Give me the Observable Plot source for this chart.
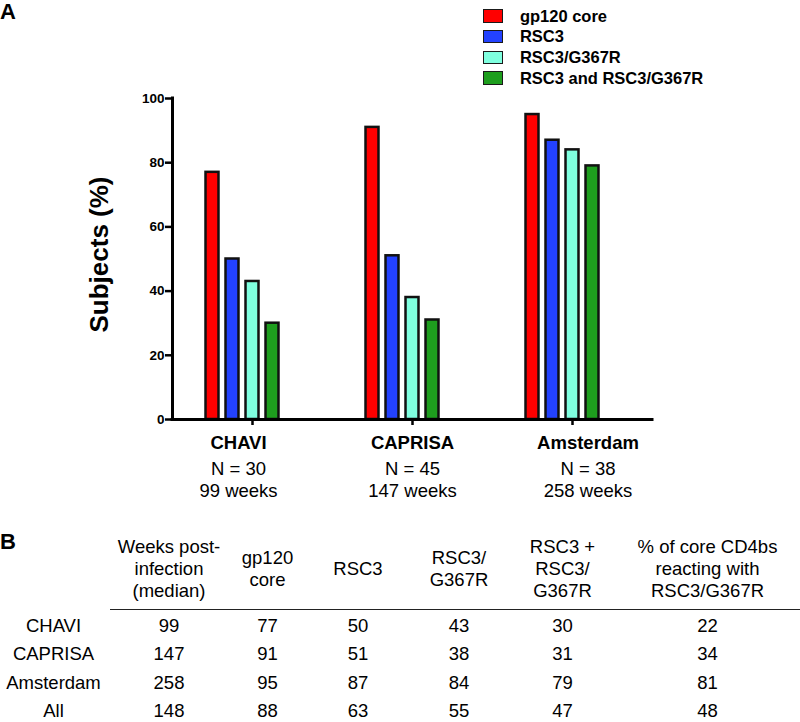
<!DOCTYPE html>
<html>
<head>
<meta charset="utf-8">
<script src="https://cdn.jsdelivr.net/npm/d3@7"></script>
<script src="https://cdn.jsdelivr.net/npm/@observablehq/plot@0.6"></script>
<style>
html, body { margin: 0; padding: 0; overflow: hidden; background: #fff; }
body { font-family: "Liberation Sans", Arial, sans-serif; color: #000; }
#page { position: relative; width: 800px; height: 722px; overflow: hidden; }
.panel { position: absolute; left: 0; font-weight: bold; font-size: 22px; line-height: 22px; }
#legend { position: absolute; left: 482.5px; top: 5.7px; }
.lrow { display: flex; align-items: center; height: 20.67px; }
.sw { box-sizing: border-box; flex: 0 0 20.6px; width: 20.6px; height: 13.4px; border: 1.5px solid #1a1a1a; margin-right: 16.8px; }
.ltxt { font-weight: bold; font-size: 16.5px; line-height: 20.67px; white-space: nowrap; }
#chart { position: absolute; left: 0; top: 86px; }
#table { position: absolute; left: 0; top: 528.7px; display: grid;
  grid-template-columns: 107px 124px 73px 108px 94px 113px 177px;
  grid-template-rows: 81.3px repeat(4, 28.5px); font-size: 18.5px; }
.th { display: flex; align-items: center; justify-content: center; text-align: center;
  line-height: 22px; white-space: nowrap; padding-bottom: 1.3px; box-sizing: border-box; }
.td { text-align: center; line-height: 20.66px; white-space: nowrap; position: relative; top: 5.8px; }
#rule { position: absolute; left: 110px; top: 608.7px; width: 690px; height: 1.4px; background: #222; }
</style>
</head>
<body>
<div id="page">
  <div class="panel" id="panelA" style="top:1.3px">A</div>
  <div id="legend"></div>
  <div id="chart"></div>
  <div class="panel" id="panelB" style="top:531.4px">B</div>
  <div id="table"></div>
  <div id="rule"></div>
</div>
<script>
// ---------- data ----------
const groups = ["CHAVI", "CAPRISA", "Amsterdam"];
const groupN = [30, 45, 38];
const series = ["gp120 core", "RSC3", "RSC3/G367R", "RSC3 and RSC3/G367R"];
const seriesColors = ["#ff0000", "#2342ff", "#7fffdf", "#1e9e1e"];

const rowLabels = ["CHAVI", "CAPRISA", "Amsterdam", "All"];
const weeksMedian = [99, 147, 258, 148];
const gp120Core = [77, 91, 95, 88];
const rsc3 = [50, 51, 87, 63];
const rsc3G367R = [43, 38, 84, 55];
const rsc3AndG367R = [30, 31, 79, 47];
const pctCoreReacting = [22, 34, 81, 48];

const tableHeaders = ["", "Weeks post-\ninfection\n(median)", "gp120\ncore", "RSC3", "RSC3/\nG367R",
  "RSC3 +\nRSC3/\nG367R", "% of core CD4bs\nreacting with\nRSC3/G367R"];

const yTicks = [0, 20, 40, 60, 80, 100];
const yLabel = "Subjects (%)";

// ---------- layout constants ----------
const xDomain = [-0.5, groups.length - 0.5];
const yDomain = [0, 100];
const barPitch = 0.125;      // in group units
const barHalf = 0.0406;
const labelShift = [-14, 0, 15.5];

// ---------- legend ----------
const legend = d3.select("#legend");
series.forEach((s, k) => {
  const row = legend.append("div").attr("class", "lrow");
  row.append("div").attr("class", "sw").style("background", seriesColors[k]);
  row.append("div").attr("class", "ltxt").text(s);
});

// ---------- chart ----------
const seriesValues = [gp120Core, rsc3, rsc3G367R, rsc3AndG367R];
const bars = groups.flatMap((g, i) => series.map((s, k) => ({
  group: g, gi: i, series: s, k, value: seriesValues[k][i]
})));
const xLabels = groups.map((g, i) => ({
  name: g, gi: i, sub: `N = ${groupN[i]}\n${weeksMedian[i]} weeks`
}));

const chart = Plot.plot({
  width: 800,
  height: 420,
  marginTop: 12,
  marginBottom: 87,
  marginLeft: 172,
  marginRight: 148,
  style: { fontFamily: "Liberation Sans, Arial, sans-serif", color: "#000", background: "#fff", overflow: "visible" },
  x: { type: "linear", domain: xDomain, label: null },
  y: { domain: yDomain, label: null },
  color: { domain: series, range: seriesColors },
  marks: [
    Plot.rect(bars, {
      x1: d => d.gi + (d.k - 2) * barPitch - barHalf,
      x2: d => d.gi + (d.k - 2) * barPitch + barHalf,
      y1: 0,
      y2: "value",
      fill: "series",
      stroke: "#111",
      strokeWidth: 2.5
    }),
    Plot.axisY({ ticks: yTicks, tickSize: 7, tickPadding: 1, strokeWidth: 2.5, fontSize: 13.5, fontWeight: "bold", label: null }),
    Plot.axisX({ ticks: groups.map((g, i) => i), tickSize: 6, strokeWidth: 2.5, tickFormat: () => "", label: null }),
    Plot.ruleX([xDomain[0]], { y1: yDomain[0], y2: yDomain[1], strokeWidth: 3, strokeLinecap: "square" }),
    Plot.ruleY([yDomain[0]], { x1: xDomain[0], x2: xDomain[1], strokeWidth: 3, strokeLinecap: "square" }),
    ...xLabels.map((d, i) => Plot.text([d], {
      x: "gi", text: "name", frameAnchor: "bottom", lineAnchor: "top",
      dy: 16, dx: labelShift[i], fontSize: 18.5, fontWeight: "bold"
    })),
    ...xLabels.map((d, i) => Plot.text([d], {
      x: "gi", text: "sub", frameAnchor: "bottom", lineAnchor: "top",
      dy: 40, dx: labelShift[i], fontSize: 18.5, lineHeight: 1.2
    })),
    Plot.text([yLabel], { frameAnchor: "left", textAnchor: "middle", rotate: -90, dx: -73, dy: -4.5, fontSize: 26, fontWeight: "bold" })
  ]
});
document.getElementById("chart").appendChild(chart);

// ---------- table ----------
const table = d3.select("#table");
tableHeaders.forEach(h => {
  const cell = table.append("div").attr("class", "th").append("div");
  h.split("\n").forEach((line, j) => {
    if (j) cell.append("br");
    cell.append("span").text(line);
  });
});
const columns = [rowLabels, weeksMedian, gp120Core, rsc3, rsc3G367R, rsc3AndG367R, pctCoreReacting];
rowLabels.forEach((r, ri) => {
  columns.forEach(col => {
    table.append("div").attr("class", "td").text(col[ri]);
  });
});
</script>
</body>
</html>
